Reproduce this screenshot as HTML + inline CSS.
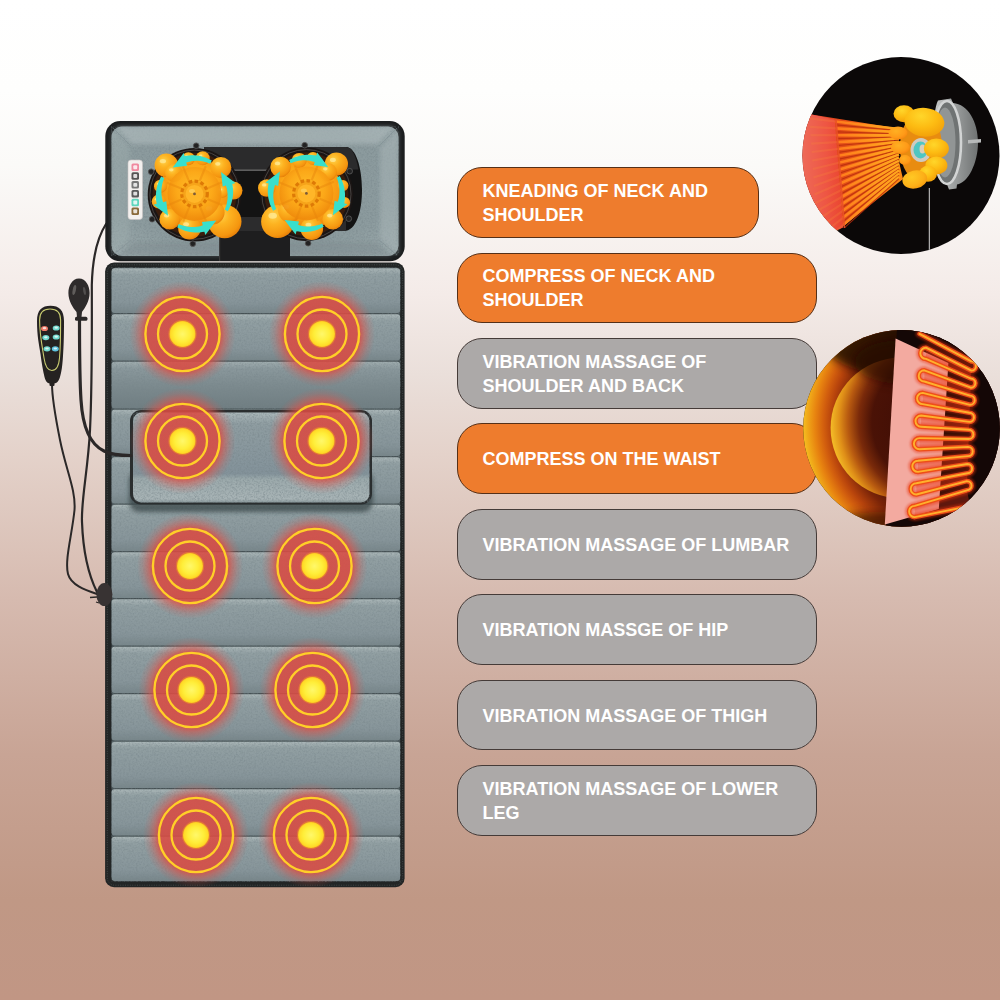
<!DOCTYPE html>
<html><head><meta charset="utf-8"><title>Massage mat functions</title>
<style>
html,body{margin:0;padding:0;}
body{width:1000px;height:1000px;position:relative;overflow:hidden;background:#fff;font-family:"Liberation Sans",Arial,sans-serif;}
.pill{position:absolute;left:457px;height:70.6px;box-sizing:border-box;padding-top:1.2px;border:1.8px solid #553018;border-radius:25px;display:flex;align-items:center;color:#fff;font-weight:bold;font-size:18px;line-height:24px;padding-left:24.6px;white-space:nowrap;}
.pill.o{background:#ee7c2d;}
.pill.g{background:#aca9a8;border-color:#453b38;}
</style></head><body>
<svg width="1000" height="1000" viewBox="0 0 1000 1000" style="position:absolute;left:0;top:0">

<defs>
<linearGradient id="bg" x1="0" y1="0" x2="0" y2="1">
 <stop offset="0" stop-color="#ffffff"/>
 <stop offset="0.09" stop-color="#fefefd"/>
 <stop offset="0.165" stop-color="#fbfaf8"/>
 <stop offset="0.295" stop-color="#f4ebe8"/>
 <stop offset="0.375" stop-color="#eadfda"/>
 <stop offset="0.455" stop-color="#e4d2ca"/>
 <stop offset="0.6" stop-color="#d6baaf"/>
 <stop offset="0.755" stop-color="#c8a495"/>
 <stop offset="0.9" stop-color="#c09885"/>
 <stop offset="1" stop-color="#c19684"/>
</linearGradient>
<linearGradient id="seg" x1="0" y1="0" x2="0" y2="1">
 <stop offset="0" stop-color="#abb7b8"/>
 <stop offset="0.14" stop-color="#919fa2"/>
 <stop offset="0.75" stop-color="#87959a"/>
 <stop offset="1" stop-color="#78868a"/>
</linearGradient>
<linearGradient id="pil" x1="0" y1="0" x2="0" y2="1">
 <stop offset="0" stop-color="#abb8ba"/>
 <stop offset="0.13" stop-color="#8f9da1"/>
 <stop offset="0.68" stop-color="#83929a"/>
 <stop offset="0.74" stop-color="#9caaac"/>
 <stop offset="0.96" stop-color="#a8b4b6"/>
 <stop offset="1" stop-color="#8a989b"/>
</linearGradient>
<radialGradient id="glow" cx="0.5" cy="0.5" r="0.5">
 <stop offset="0" stop-color="#d84c44" stop-opacity="0.9"/>
 <stop offset="0.70" stop-color="#d84c44" stop-opacity="0.88"/>
 <stop offset="0.80" stop-color="#dc544a" stop-opacity="0.5"/>
 <stop offset="0.90" stop-color="#dc544a" stop-opacity="0.18"/>
 <stop offset="1" stop-color="#dc544a" stop-opacity="0"/>
</radialGradient>
<linearGradient id="segd" x1="0" y1="0" x2="0" y2="1">
 <stop offset="0" stop-color="#a0adaf"/>
 <stop offset="0.15" stop-color="#8a989c"/>
 <stop offset="0.5" stop-color="#7d8b8f"/>
 <stop offset="1" stop-color="#6f7d81"/>
</linearGradient>
<radialGradient id="dot" cx="0.5" cy="0.5" r="0.5">
 <stop offset="0" stop-color="#fff86a"/>
 <stop offset="0.6" stop-color="#ffee3a"/>
 <stop offset="0.9" stop-color="#ffdc28"/>
 <stop offset="1" stop-color="#fbc620"/>
</radialGradient>
<radialGradient id="ball" cx="0.38" cy="0.32" r="0.75">
 <stop offset="0" stop-color="#ffd24a"/>
 <stop offset="0.35" stop-color="#fdb321"/>
 <stop offset="0.8" stop-color="#f5960f"/>
 <stop offset="1" stop-color="#df7606"/>
</radialGradient>
<radialGradient id="fist" cx="0.4" cy="0.3" r="0.8">
 <stop offset="0" stop-color="#ffd62a"/>
 <stop offset="0.5" stop-color="#fdbb12"/>
 <stop offset="1" stop-color="#f09a08"/>
</radialGradient>
<radialGradient id="core" cx="0.5" cy="0.42" r="0.55">
 <stop offset="0" stop-color="#ffbe2a"/>
 <stop offset="0.6" stop-color="#fca818"/>
 <stop offset="1" stop-color="#f08c0c"/>
</radialGradient>
<radialGradient id="headfab" cx="0.5" cy="0.45" r="0.7">
 <stop offset="0" stop-color="#8a999c"/>
 <stop offset="0.7" stop-color="#8c9b9e"/>
 <stop offset="1" stop-color="#9aa8aa"/>
</radialGradient>
<radialGradient id="disc" gradientUnits="userSpaceOnUse" cx="938" cy="422" r="110">
 <stop offset="0" stop-color="#3a0b05"/>
 <stop offset="0.6" stop-color="#4a1206"/>
 <stop offset="0.72" stop-color="#7a2a0a"/>
 <stop offset="0.82" stop-color="#b85a10"/>
 <stop offset="0.9" stop-color="#e09018"/>
 <stop offset="0.97" stop-color="#f2b826"/>
</radialGradient>
<radialGradient id="band" gradientUnits="userSpaceOnUse" cx="948" cy="424" r="148">
 <stop offset="0" stop-color="#2a0805"/>
 <stop offset="0.55" stop-color="#3a0e06"/>
 <stop offset="0.7" stop-color="#7a2408"/>
 <stop offset="0.79" stop-color="#b8440c"/>
 <stop offset="0.84" stop-color="#d25e0e"/>
 <stop offset="0.9" stop-color="#e88410"/>
 <stop offset="0.95" stop-color="#f0a818"/>
 <stop offset="0.985" stop-color="#f6c224"/>
</radialGradient>
<linearGradient id="beam" gradientUnits="userSpaceOnUse" x1="805" y1="0" x2="900" y2="0">
 <stop offset="0" stop-color="#e8402e"/>
 <stop offset="0.35" stop-color="#e04818"/>
 <stop offset="0.7" stop-color="#ee6a14"/>
 <stop offset="1" stop-color="#fb8a16"/>
</linearGradient>
<linearGradient id="panel" gradientUnits="userSpaceOnUse" x1="802" y1="0" x2="842" y2="0">
 <stop offset="0" stop-color="#ee6a58"/>
 <stop offset="0.6" stop-color="#ee5644"/>
 <stop offset="1" stop-color="#ea4630"/>
</linearGradient>
<linearGradient id="ray" gradientUnits="userSpaceOnUse" x1="836" y1="0" x2="900" y2="0">
 <stop offset="0" stop-color="#ff7a1c"/>
 <stop offset="0.6" stop-color="#ff9a1e"/>
 <stop offset="1" stop-color="#ffa81e"/>
</linearGradient>
<radialGradient id="fisto" cx="0.4" cy="0.35" r="0.8">
 <stop offset="0" stop-color="#ffb022"/>
 <stop offset="0.6" stop-color="#ff9a18"/>
 <stop offset="1" stop-color="#f07c0a"/>
</radialGradient>
<radialGradient id="fisto2" cx="0.4" cy="0.35" r="0.8">
 <stop offset="0" stop-color="#ffc824"/>
 <stop offset="0.6" stop-color="#fdb018"/>
 <stop offset="1" stop-color="#f0900a"/>
</radialGradient>
<linearGradient id="metal" x1="0" y1="0" x2="1" y2="0">
 <stop offset="0" stop-color="#c8caca"/>
 <stop offset="0.5" stop-color="#9a9d9d"/>
 <stop offset="1" stop-color="#6f7272"/>
</linearGradient>
<clipPath id="c1"><circle cx="901" cy="155.5" r="98.5"/></clipPath>
<clipPath id="c2"><circle cx="901.5" cy="428.4" r="98.3"/></clipPath>
<filter id="noise" x="0" y="0" width="100%" height="100%">
 <feTurbulence type="fractalNoise" baseFrequency="0.55" numOctaves="2" seed="7" result="t"/>
 <feColorMatrix in="t" type="matrix" values="0 0 0 0 0.18  0 0 0 0 0.23  0 0 0 0 0.25  1.8 1.8 0 0 -1.55"/>
</filter>
<filter id="b2" x="-20%" y="-20%" width="140%" height="140%"><feGaussianBlur stdDeviation="2"/></filter>
<filter id="b4" x="-30%" y="-30%" width="160%" height="160%"><feGaussianBlur stdDeviation="5"/></filter>
<filter id="b1" x="-20%" y="-20%" width="140%" height="140%"><feGaussianBlur stdDeviation="0.8"/></filter>
</defs>

<rect width="1000" height="1000" fill="url(#bg)"/>
<path d="M106 224 C97 238 92.5 258 91.8 285 C92 340 92 390 90 430 C88 470 81 500 82 522 C83 550 87 572 97 592" stroke="#2b2828" fill="none" stroke-linecap="round" stroke-width="2.2"/>
<path d="M52 384 C52 400 56 420 60 440 C66 470 76 490 74.5 510 C72 535 64.5 560 68 574 C71 585 85 590 97 594" stroke="#2b2828" fill="none" stroke-linecap="round" stroke-width="2"/>
<rect x="105.1" y="262.6" width="299.5" height="624.6" rx="9" fill="#222525"/>
<rect x="107.3" y="264.8" width="295.4" height="620.4" rx="7.5" fill="none" stroke="#414747" stroke-width="1" stroke-dasharray="1 1.4"/>
<rect x="111.6" y="267.5" width="288.5" height="614" rx="5" fill="#465154"/>
<rect x="111.6" y="268.2" width="288.5" height="44.8" rx="3" fill="url(#seg)"/>
<rect x="111.6" y="314.3" width="288.5" height="46.1" rx="3" fill="url(#seg)"/>
<rect x="111.6" y="361.7" width="288.5" height="46.7" rx="3" fill="url(#segd)"/>
<rect x="111.6" y="409.7" width="288.5" height="46.2" rx="3" fill="url(#seg)"/>
<rect x="111.6" y="457.2" width="288.5" height="46.2" rx="3" fill="url(#seg)"/>
<rect x="111.6" y="504.7" width="288.5" height="46.2" rx="3" fill="url(#seg)"/>
<rect x="111.6" y="552.2" width="288.5" height="45.7" rx="3" fill="url(#seg)"/>
<rect x="111.6" y="599.2" width="288.5" height="46.2" rx="3" fill="url(#seg)"/>
<rect x="111.6" y="646.7" width="288.5" height="46.2" rx="3" fill="url(#seg)"/>
<rect x="111.6" y="694.2" width="288.5" height="46.2" rx="3" fill="url(#seg)"/>
<rect x="111.6" y="741.7" width="288.5" height="46.2" rx="3" fill="url(#seg)"/>
<rect x="111.6" y="789.2" width="288.5" height="46.2" rx="3" fill="url(#seg)"/>
<rect x="111.6" y="836.7" width="288.5" height="44.2" rx="3" fill="url(#seg)"/>
<rect x="111.6" y="267.5" width="288.5" height="614" filter="url(#noise)" opacity="0.42"/>
<ellipse cx="104.4" cy="594.6" rx="8" ry="11.5" fill="#383333"/>
<path d="M90 597.5 l7 -0.5 M96 602 l3 1" stroke="#2b2827" stroke-width="1.3"/>
<rect x="129" y="470" width="244" height="42" rx="10" fill="#394447" opacity="0.75" filter="url(#b2)"/>
<rect x="130" y="410" width="242" height="94.5" rx="11" fill="#2a2e2f"/>
<rect x="133" y="412.4" width="236.4" height="90.2" rx="8.5" fill="url(#pil)"/>
<rect x="133" y="412.4" width="236.4" height="90.2" rx="8.5" filter="url(#noise)" opacity="0.5"/>
<path d="M79.5 320 C79.5 350 80 385 81 400 C82.5 425 89 444 104 451 C112 455 122 455.5 131 455.5" stroke="#2b2828" fill="none" stroke-linecap="round" stroke-width="3.2"/>
<rect x="105.3" y="121" width="299.4" height="140.3" rx="15" fill="#1c1e1f"/>
<rect x="111.5" y="126.5" width="287" height="129.5" rx="10.5" fill="url(#headfab)"/>
<rect x="111.5" y="126.5" width="287" height="129.5" rx="10.5" filter="url(#noise)" opacity="0.45"/>
<g filter="url(#b2)">
<path d="M112 130 L130 148 L130 238 L112 254Z" fill="#9eacae" opacity="0.45"/>
<path d="M398 130 L380 148 L380 238 L398 254Z" fill="#a5b2b4" opacity="0.6"/>
<path d="M116 127 L394 127 L378 144 L132 144Z" fill="#a9b6b8" opacity="0.7"/>
<path d="M118 256 L392 256 L376 242 L134 242Z" fill="#7b8a8d" opacity="0.5"/>
</g>
<path d="M113 128 L131 146 M397 128 L379 146 M113 255 L131 240 M397 255 L379 240" stroke="#7d8c8f" stroke-width="0.8" opacity="0.6" fill="none"/>
<path d="M204 147 L346 147 C356 147 362 168 362 190 C362 212 356 231 344 231 L290 231 L290 261 L219 261 L219 231 L204 231Z" fill="#131313"/>
<path d="M204 147 L346 147 C352 147 356 156 358.5 169.5 L204 169.5Z" fill="#2b2b2c"/>
<rect x="226" y="169.5" width="120" height="1.3" fill="#8a8a8a" opacity="0.8"/>
<rect x="226" y="217" width="120" height="14" fill="#2c2c2d"/>
<rect x="219" y="231" width="71" height="30" fill="#1e1e1f"/>
<rect x="219" y="231" width="1.2" height="30" fill="#3a3a3a"/>
<rect x="128" y="160" width="14.5" height="59.5" rx="3" fill="#f3f0ee" stroke="#c9c5c2" stroke-width="0.6"/>
<rect x="131.5" y="163.5" width="7.5" height="7.5" rx="1.5" fill="#f08aa0"/>
<rect x="133.3" y="165.3" width="3.9" height="3.9" rx="1" fill="#fff" opacity="0.8"/>
<rect x="131.5" y="172.3" width="7.5" height="7.5" rx="1.5" fill="#555"/>
<rect x="133.3" y="174.1" width="3.9" height="3.9" rx="1" fill="#fff" opacity="0.8"/>
<rect x="131.5" y="181.1" width="7.5" height="7.5" rx="1.5" fill="#777"/>
<rect x="133.3" y="182.9" width="3.9" height="3.9" rx="1" fill="#fff" opacity="0.8"/>
<rect x="131.5" y="189.9" width="7.5" height="7.5" rx="1.5" fill="#5a5a5a"/>
<rect x="133.3" y="191.7" width="3.9" height="3.9" rx="1" fill="#fff" opacity="0.8"/>
<rect x="131.5" y="198.7" width="7.5" height="7.5" rx="1.5" fill="#5fd6bd"/>
<rect x="133.3" y="200.5" width="3.9" height="3.9" rx="1" fill="#fff" opacity="0.8"/>
<rect x="131.5" y="207.5" width="7.5" height="7.5" rx="1.5" fill="#8a6a3a"/>
<rect x="133.3" y="209.3" width="3.9" height="3.9" rx="1" fill="#fff" opacity="0.8"/>
<circle cx="194.5" cy="194.70000000000002" r="46.8" fill="#1a1514"/>
<circle cx="194.5" cy="194.70000000000002" r="44.6" fill="none" stroke="#4d4846" stroke-width="0.9"/>
<circle cx="194.5" cy="194.70000000000002" r="42" fill="#3a1d0c"/>
<circle cx="196.2" cy="145.7" r="2.8" fill="#222" stroke="#555" stroke-width="0.9"/>
<circle cx="192.8" cy="243.7" r="2.8" fill="#222" stroke="#555" stroke-width="0.9"/>
<circle cx="152.1" cy="219.2" r="2.8" fill="#222" stroke="#555" stroke-width="0.9"/>
<circle cx="151.2" cy="171.7" r="2.8" fill="#222" stroke="#555" stroke-width="0.9"/>
<circle cx="194.5" cy="193.9" r="36" fill="url(#core)"/>
<circle cx="166.4" cy="165.3" r="11.8" fill="url(#ball)"/>
<ellipse cx="162.9" cy="161.2" rx="3.1" ry="2.1" fill="#fff3b0" opacity="0.6"/>
<circle cx="174.0" cy="173.0" r="9" fill="url(#ball)"/>
<ellipse cx="171.3" cy="169.8" rx="2.3" ry="1.6" fill="#fff3b0" opacity="0.6"/>
<circle cx="188.4" cy="158.7" r="6.5" fill="url(#ball)"/>
<ellipse cx="186.5" cy="156.4" rx="1.7" ry="1.2" fill="#fff3b0" opacity="0.6"/>
<circle cx="202.7" cy="158.3" r="7" fill="url(#ball)"/>
<ellipse cx="200.6" cy="155.9" rx="1.8" ry="1.3" fill="#fff3b0" opacity="0.6"/>
<circle cx="220.9" cy="167.5" r="10.5" fill="url(#ball)"/>
<ellipse cx="217.8" cy="163.8" rx="2.7" ry="1.9" fill="#fff3b0" opacity="0.6"/>
<circle cx="233.5" cy="190.6" r="9" fill="url(#ball)"/>
<ellipse cx="230.8" cy="187.4" rx="2.3" ry="1.6" fill="#fff3b0" opacity="0.6"/>
<circle cx="222.5" cy="191.7" r="6" fill="url(#ball)"/>
<ellipse cx="220.7" cy="189.6" rx="1.6" ry="1.1" fill="#fff3b0" opacity="0.6"/>
<circle cx="224.7" cy="221.4" r="16.8" fill="url(#ball)"/>
<ellipse cx="219.7" cy="215.5" rx="4.4" ry="3.0" fill="#fff3b0" opacity="0.6"/>
<circle cx="212.6" cy="212.6" r="12" fill="url(#ball)"/>
<ellipse cx="209.0" cy="208.4" rx="3.1" ry="2.2" fill="#fff3b0" opacity="0.6"/>
<circle cx="189.5" cy="228.2" r="11.3" fill="url(#ball)"/>
<ellipse cx="186.1" cy="224.2" rx="2.9" ry="2.0" fill="#fff3b0" opacity="0.6"/>
<circle cx="169.7" cy="219.2" r="10.3" fill="url(#ball)"/>
<ellipse cx="166.6" cy="215.6" rx="2.7" ry="1.9" fill="#fff3b0" opacity="0.6"/>
<circle cx="158.7" cy="201.6" r="7" fill="url(#ball)"/>
<ellipse cx="156.6" cy="199.2" rx="1.8" ry="1.3" fill="#fff3b0" opacity="0.6"/>
<circle cx="160.5" cy="186.2" r="6.5" fill="url(#ball)"/>
<ellipse cx="158.6" cy="183.9" rx="1.7" ry="1.2" fill="#fff3b0" opacity="0.6"/>
<circle cx="194.5" cy="193.9" r="27" fill="url(#core)" opacity="0.9"/>
<path d="M208.4 199.5 L221.4 204.8" stroke="#e8860c" stroke-width="2.2" opacity="0.45" stroke-linecap="round"/>
<path d="M200.4 207.7 L205.8 220.6" stroke="#e8860c" stroke-width="2.2" opacity="0.45" stroke-linecap="round"/>
<path d="M188.9 207.8 L183.6 220.8" stroke="#e8860c" stroke-width="2.2" opacity="0.45" stroke-linecap="round"/>
<path d="M180.7 199.8 L167.8 205.2" stroke="#e8860c" stroke-width="2.2" opacity="0.45" stroke-linecap="round"/>
<path d="M180.6 188.3 L167.6 183.0" stroke="#e8860c" stroke-width="2.2" opacity="0.45" stroke-linecap="round"/>
<path d="M188.6 180.1 L183.2 167.2" stroke="#e8860c" stroke-width="2.2" opacity="0.45" stroke-linecap="round"/>
<path d="M200.1 180.0 L205.4 167.0" stroke="#e8860c" stroke-width="2.2" opacity="0.45" stroke-linecap="round"/>
<path d="M208.3 188.0 L221.2 182.6" stroke="#e8860c" stroke-width="2.2" opacity="0.45" stroke-linecap="round"/>
<circle cx="194.5" cy="193.9" r="12.8" fill="#f6a41a" stroke="#de7a06" stroke-width="3.2" stroke-dasharray="3.6 2.4"/>
<circle cx="194.5" cy="193.9" r="9" fill="#ffb628"/>
<ellipse cx="192.0" cy="190.9" rx="3" ry="2" fill="#ffd870" opacity="0.6"/>
<circle cx="194.5" cy="193.9" r="1.4" fill="#7a5a3a"/>
<polygon points="211.8,160.6 209.8,159.5 207.7,158.5 205.5,157.6 203.3,156.9 201.1,156.3 198.8,155.8 196.4,155.5 194.1,155.3 191.7,155.3 189.3,155.4 186.9,155.7 184.6,156.1 183.7,152.9 172.7,167.4 187.1,165.7 186.2,162.5 188.2,161.9 190.1,161.4 192.1,161.1 194.1,160.9 196.2,160.8 198.2,160.8 200.3,161.0 202.3,161.3 204.3,161.7 206.3,162.2 208.3,162.9 210.2,163.7" fill="#38dfcd"/>
<polygon points="227.8,211.2 228.9,209.2 229.9,207.1 230.8,204.9 231.5,202.7 232.1,200.5 232.6,198.2 232.9,195.8 233.1,193.5 233.1,191.1 233.0,188.7 232.7,186.3 232.3,184.0 235.5,183.1 221.0,172.1 222.7,186.5 225.9,185.6 226.5,187.6 227.0,189.5 227.3,191.5 227.5,193.5 227.6,195.6 227.6,197.6 227.4,199.7 227.1,201.7 226.7,203.7 226.2,205.7 225.5,207.7 224.7,209.6" fill="#38dfcd"/>
<polygon points="177.2,227.2 179.2,228.3 181.3,229.3 183.5,230.2 185.7,230.9 187.9,231.5 190.2,232.0 192.6,232.3 194.9,232.5 197.3,232.5 199.7,232.4 202.1,232.1 204.4,231.7 205.3,234.9 216.3,220.4 201.9,222.1 202.8,225.3 200.8,225.9 198.9,226.4 196.9,226.7 194.9,226.9 192.8,227.0 190.8,227.0 188.7,226.8 186.7,226.5 184.7,226.1 182.7,225.6 180.7,224.9 178.8,224.1" fill="#38dfcd"/>
<polygon points="161.2,176.6 160.1,178.6 159.1,180.7 158.2,182.9 157.5,185.1 156.9,187.3 156.4,189.6 156.1,192.0 155.9,194.3 155.9,196.7 156.0,199.1 156.3,201.5 156.7,203.8 153.5,204.7 168.0,215.7 166.3,201.3 163.1,202.2 162.5,200.2 162.0,198.3 161.7,196.3 161.5,194.3 161.4,192.2 161.4,190.2 161.6,188.1 161.9,186.1 162.3,184.1 162.8,182.1 163.5,180.1 164.3,178.2" fill="#38dfcd"/>
<circle cx="306.4" cy="194.20000000000002" r="46.8" fill="#1a1514"/>
<circle cx="306.4" cy="194.20000000000002" r="44.6" fill="none" stroke="#4d4846" stroke-width="0.9"/>
<circle cx="306.4" cy="194.20000000000002" r="42" fill="#3a1d0c"/>
<circle cx="304.7" cy="145.2" r="2.8" fill="#222" stroke="#555" stroke-width="0.9"/>
<circle cx="308.1" cy="243.2" r="2.8" fill="#222" stroke="#555" stroke-width="0.9"/>
<circle cx="348.8" cy="218.7" r="2.8" fill="#222" stroke="#555" stroke-width="0.9"/>
<circle cx="349.7" cy="171.2" r="2.8" fill="#222" stroke="#555" stroke-width="0.9"/>
<circle cx="306.4" cy="193.4" r="36" fill="url(#core)"/>
<circle cx="336.4" cy="164.0" r="11.6" fill="url(#ball)"/>
<ellipse cx="332.9" cy="159.9" rx="3.0" ry="2.1" fill="#fff3b0" opacity="0.6"/>
<circle cx="328.0" cy="172.0" r="9" fill="url(#ball)"/>
<ellipse cx="325.3" cy="168.8" rx="2.3" ry="1.6" fill="#fff3b0" opacity="0.6"/>
<circle cx="299.2" cy="160.4" r="7.5" fill="url(#ball)"/>
<ellipse cx="296.9" cy="157.8" rx="2.0" ry="1.3" fill="#fff3b0" opacity="0.6"/>
<circle cx="313.0" cy="158.5" r="6.5" fill="url(#ball)"/>
<ellipse cx="311.1" cy="156.2" rx="1.7" ry="1.2" fill="#fff3b0" opacity="0.6"/>
<circle cx="280.6" cy="167.0" r="10.3" fill="url(#ball)"/>
<ellipse cx="277.5" cy="163.4" rx="2.7" ry="1.9" fill="#fff3b0" opacity="0.6"/>
<circle cx="266.8" cy="188.0" r="8.8" fill="url(#ball)"/>
<ellipse cx="264.2" cy="184.9" rx="2.3" ry="1.6" fill="#fff3b0" opacity="0.6"/>
<circle cx="277.6" cy="221.6" r="16.5" fill="url(#ball)"/>
<ellipse cx="272.7" cy="215.8" rx="4.3" ry="3.0" fill="#fff3b0" opacity="0.6"/>
<circle cx="289.6" cy="210.8" r="11.5" fill="url(#ball)"/>
<ellipse cx="286.2" cy="206.8" rx="3.0" ry="2.1" fill="#fff3b0" opacity="0.6"/>
<circle cx="311.8" cy="228.8" r="11.3" fill="url(#ball)"/>
<ellipse cx="308.4" cy="224.8" rx="2.9" ry="2.0" fill="#fff3b0" opacity="0.6"/>
<circle cx="332.8" cy="219.2" r="10.3" fill="url(#ball)"/>
<ellipse cx="329.7" cy="215.6" rx="2.7" ry="1.9" fill="#fff3b0" opacity="0.6"/>
<circle cx="344.6" cy="202.4" r="5.5" fill="url(#ball)"/>
<ellipse cx="343.0" cy="200.5" rx="1.4" ry="1.0" fill="#fff3b0" opacity="0.6"/>
<circle cx="343.0" cy="185.6" r="5.5" fill="url(#ball)"/>
<ellipse cx="341.4" cy="183.7" rx="1.4" ry="1.0" fill="#fff3b0" opacity="0.6"/>
<circle cx="306.4" cy="193.4" r="27" fill="url(#core)" opacity="0.9"/>
<path d="M320.3 199.0 L333.3 204.3" stroke="#e8860c" stroke-width="2.2" opacity="0.45" stroke-linecap="round"/>
<path d="M312.3 207.2 L317.7 220.1" stroke="#e8860c" stroke-width="2.2" opacity="0.45" stroke-linecap="round"/>
<path d="M300.8 207.3 L295.5 220.3" stroke="#e8860c" stroke-width="2.2" opacity="0.45" stroke-linecap="round"/>
<path d="M292.6 199.3 L279.7 204.7" stroke="#e8860c" stroke-width="2.2" opacity="0.45" stroke-linecap="round"/>
<path d="M292.5 187.8 L279.5 182.5" stroke="#e8860c" stroke-width="2.2" opacity="0.45" stroke-linecap="round"/>
<path d="M300.5 179.6 L295.1 166.7" stroke="#e8860c" stroke-width="2.2" opacity="0.45" stroke-linecap="round"/>
<path d="M312.0 179.5 L317.3 166.5" stroke="#e8860c" stroke-width="2.2" opacity="0.45" stroke-linecap="round"/>
<path d="M320.2 187.5 L333.1 182.1" stroke="#e8860c" stroke-width="2.2" opacity="0.45" stroke-linecap="round"/>
<circle cx="306.4" cy="193.4" r="12.8" fill="#f6a41a" stroke="#de7a06" stroke-width="3.2" stroke-dasharray="3.6 2.4"/>
<circle cx="306.4" cy="193.4" r="9" fill="#ffb628"/>
<ellipse cx="303.9" cy="190.4" rx="3" ry="2" fill="#ffd870" opacity="0.6"/>
<circle cx="306.4" cy="193.4" r="1.4" fill="#7a5a3a"/>
<polygon points="289.1,160.1 291.1,159.0 293.2,158.0 295.4,157.1 297.6,156.4 299.8,155.8 302.1,155.3 304.5,155.0 306.8,154.8 309.2,154.8 311.6,154.9 314.0,155.2 316.3,155.6 317.2,152.4 328.2,166.9 313.8,165.2 314.7,162.0 312.7,161.4 310.8,160.9 308.8,160.6 306.8,160.4 304.7,160.3 302.7,160.3 300.6,160.5 298.6,160.8 296.6,161.2 294.6,161.7 292.6,162.4 290.7,163.2" fill="#38dfcd"/>
<polygon points="339.7,176.1 340.8,178.1 341.8,180.2 342.7,182.4 343.4,184.6 344.0,186.8 344.5,189.1 344.8,191.5 345.0,193.8 345.0,196.2 344.9,198.6 344.6,201.0 344.2,203.3 347.4,204.2 332.9,215.2 334.6,200.8 337.8,201.7 338.4,199.7 338.9,197.8 339.2,195.8 339.4,193.8 339.5,191.7 339.5,189.7 339.3,187.6 339.0,185.6 338.6,183.6 338.1,181.6 337.4,179.6 336.6,177.7" fill="#38dfcd"/>
<polygon points="323.7,226.7 321.7,227.8 319.6,228.8 317.4,229.7 315.2,230.4 313.0,231.0 310.7,231.5 308.3,231.8 306.0,232.0 303.6,232.0 301.2,231.9 298.8,231.6 296.5,231.2 295.6,234.4 284.6,219.9 299.0,221.6 298.1,224.8 300.1,225.4 302.0,225.9 304.0,226.2 306.0,226.4 308.1,226.5 310.1,226.5 312.2,226.3 314.2,226.0 316.2,225.6 318.2,225.1 320.2,224.4 322.1,223.6" fill="#38dfcd"/>
<polygon points="273.1,210.7 272.0,208.7 271.0,206.6 270.1,204.4 269.4,202.2 268.8,200.0 268.3,197.7 268.0,195.3 267.8,193.0 267.8,190.6 267.9,188.2 268.2,185.8 268.6,183.5 265.4,182.6 279.9,171.6 278.2,186.0 275.0,185.1 274.4,187.1 273.9,189.0 273.6,191.0 273.4,193.0 273.3,195.1 273.3,197.1 273.5,199.2 273.8,201.2 274.2,203.2 274.7,205.2 275.4,207.2 276.2,209.1" fill="#38dfcd"/>
<circle cx="182.5" cy="334" r="53" fill="url(#glow)"/>
<circle cx="182.5" cy="334" r="37.1" fill="none" stroke="#ffcf28" stroke-width="2.4"/>
<circle cx="182.5" cy="334" r="24.5" fill="none" stroke="#ffcf28" stroke-width="2.3"/>
<circle cx="182.5" cy="334" r="14.2" fill="#f0902a" opacity="0.55"/>
<circle cx="182.5" cy="334" r="13" fill="url(#dot)"/>
<circle cx="322" cy="334" r="53" fill="url(#glow)"/>
<circle cx="322" cy="334" r="37.1" fill="none" stroke="#ffcf28" stroke-width="2.4"/>
<circle cx="322" cy="334" r="24.5" fill="none" stroke="#ffcf28" stroke-width="2.3"/>
<circle cx="322" cy="334" r="14.2" fill="#f0902a" opacity="0.55"/>
<circle cx="322" cy="334" r="13" fill="url(#dot)"/>
<circle cx="182.5" cy="441" r="53" fill="url(#glow)"/>
<circle cx="182.5" cy="441" r="37.1" fill="none" stroke="#ffcf28" stroke-width="2.4"/>
<circle cx="182.5" cy="441" r="24.5" fill="none" stroke="#ffcf28" stroke-width="2.3"/>
<circle cx="182.5" cy="441" r="14.2" fill="#f0902a" opacity="0.55"/>
<circle cx="182.5" cy="441" r="13" fill="url(#dot)"/>
<circle cx="321.5" cy="441" r="53" fill="url(#glow)"/>
<circle cx="321.5" cy="441" r="37.1" fill="none" stroke="#ffcf28" stroke-width="2.4"/>
<circle cx="321.5" cy="441" r="24.5" fill="none" stroke="#ffcf28" stroke-width="2.3"/>
<circle cx="321.5" cy="441" r="14.2" fill="#f0902a" opacity="0.55"/>
<circle cx="321.5" cy="441" r="13" fill="url(#dot)"/>
<circle cx="190" cy="566" r="53" fill="url(#glow)"/>
<circle cx="190" cy="566" r="37.1" fill="none" stroke="#ffcf28" stroke-width="2.4"/>
<circle cx="190" cy="566" r="24.5" fill="none" stroke="#ffcf28" stroke-width="2.3"/>
<circle cx="190" cy="566" r="14.2" fill="#f0902a" opacity="0.55"/>
<circle cx="190" cy="566" r="13" fill="url(#dot)"/>
<circle cx="314.5" cy="566" r="53" fill="url(#glow)"/>
<circle cx="314.5" cy="566" r="37.1" fill="none" stroke="#ffcf28" stroke-width="2.4"/>
<circle cx="314.5" cy="566" r="24.5" fill="none" stroke="#ffcf28" stroke-width="2.3"/>
<circle cx="314.5" cy="566" r="14.2" fill="#f0902a" opacity="0.55"/>
<circle cx="314.5" cy="566" r="13" fill="url(#dot)"/>
<circle cx="191.5" cy="690" r="53" fill="url(#glow)"/>
<circle cx="191.5" cy="690" r="37.1" fill="none" stroke="#ffcf28" stroke-width="2.4"/>
<circle cx="191.5" cy="690" r="24.5" fill="none" stroke="#ffcf28" stroke-width="2.3"/>
<circle cx="191.5" cy="690" r="14.2" fill="#f0902a" opacity="0.55"/>
<circle cx="191.5" cy="690" r="13" fill="url(#dot)"/>
<circle cx="312.5" cy="690" r="53" fill="url(#glow)"/>
<circle cx="312.5" cy="690" r="37.1" fill="none" stroke="#ffcf28" stroke-width="2.4"/>
<circle cx="312.5" cy="690" r="24.5" fill="none" stroke="#ffcf28" stroke-width="2.3"/>
<circle cx="312.5" cy="690" r="14.2" fill="#f0902a" opacity="0.55"/>
<circle cx="312.5" cy="690" r="13" fill="url(#dot)"/>
<circle cx="196" cy="835" r="53" fill="url(#glow)"/>
<circle cx="196" cy="835" r="37.1" fill="none" stroke="#ffcf28" stroke-width="2.4"/>
<circle cx="196" cy="835" r="24.5" fill="none" stroke="#ffcf28" stroke-width="2.3"/>
<circle cx="196" cy="835" r="14.2" fill="#f0902a" opacity="0.55"/>
<circle cx="196" cy="835" r="13" fill="url(#dot)"/>
<circle cx="311" cy="835" r="53" fill="url(#glow)"/>
<circle cx="311" cy="835" r="37.1" fill="none" stroke="#ffcf28" stroke-width="2.4"/>
<circle cx="311" cy="835" r="24.5" fill="none" stroke="#ffcf28" stroke-width="2.3"/>
<circle cx="311" cy="835" r="14.2" fill="#f0902a" opacity="0.55"/>
<circle cx="311" cy="835" r="13" fill="url(#dot)"/>
<path d="M79 278.5 C86 278.5 89.6 286 89.6 293 C89.6 301 85 308 82 312 L81.5 317 L77 317 L76.5 312 C73 308 68.4 301 68.4 293 C68.4 286 72 278.5 79 278.5Z" fill="#2e2b2b"/>
<ellipse cx="74.3" cy="290" rx="1.6" ry="5" fill="#8a8684" opacity="0.55" transform="rotate(12 74.3 290)"/>
<ellipse cx="84.5" cy="291" rx="1.2" ry="4" fill="#8a8684" opacity="0.4" transform="rotate(-10 84.5 291)"/>
<rect x="75" y="316.8" width="12.4" height="4" rx="1.5" fill="#2a2727"/>
<path d="M37 321 C37 310 42 305.8 50.5 305.8 C59 305.8 64 310 64 321 C64 338 63.6 348 63 356 C62.4 366 61.5 372 60 377 C58.5 382 56 384 52 384 C48 384 45.8 382 44.5 377 C43 371 41.5 362 40.5 354 C39 344 37 336 37 321Z" fill="#252221"/>
<path d="M39.6 320 C39.6 312 44 309 50 309 C56 309 60.6 312 60.6 320 C60.6 335 60.4 348 59.5 358 C58.8 366 56 370.5 51.8 370.5 C47.5 370.5 45.2 366 44 358 C42.5 348 39.6 335 39.6 320Z" fill="none" stroke="#c8cb70" stroke-width="1.1"/>
<ellipse cx="44.5" cy="328.5" rx="3.5" ry="2.6" fill="#ee7a68"/>
<ellipse cx="44.5" cy="328.2" rx="1.8" ry="1.1" fill="#fff" opacity="0.75"/>
<ellipse cx="56.2" cy="328" rx="3.5" ry="2.6" fill="#6fd9cf"/>
<ellipse cx="56.2" cy="327.7" rx="1.8" ry="1.1" fill="#fff" opacity="0.75"/>
<ellipse cx="45.8" cy="337.6" rx="3.5" ry="2.6" fill="#6fd9cf"/>
<ellipse cx="45.8" cy="337.3" rx="1.8" ry="1.1" fill="#fff" opacity="0.75"/>
<ellipse cx="56.2" cy="337" rx="3.5" ry="2.6" fill="#6fd9cf"/>
<ellipse cx="56.2" cy="336.7" rx="1.8" ry="1.1" fill="#fff" opacity="0.75"/>
<ellipse cx="47" cy="348.8" rx="3.5" ry="2.6" fill="#6fd9cf"/>
<ellipse cx="47" cy="348.5" rx="1.8" ry="1.1" fill="#fff" opacity="0.75"/>
<ellipse cx="55.3" cy="348.8" rx="3.5" ry="2.6" fill="#5fc4e0"/>
<ellipse cx="55.3" cy="348.5" rx="1.8" ry="1.1" fill="#fff" opacity="0.75"/>
<rect x="49.5" y="383" width="5" height="3" rx="1" fill="#252221"/>
</svg>
<div class="pill o" style="top:167.1px;width:301.5px"><div>KNEADING OF NECK AND<br>SHOULDER</div></div>
<div class="pill o" style="top:252.56px;width:359.5px"><div>COMPRESS OF NECK AND<br>SHOULDER</div></div>
<div class="pill g" style="top:338.02px;width:359.5px"><div>VIBRATION MASSAGE OF<br>SHOULDER AND BACK</div></div>
<div class="pill o" style="top:423.48px;width:359.5px"><div>COMPRESS ON THE WAIST</div></div>
<div class="pill g" style="top:508.94px;width:359.5px"><div>VIBRATION MASSAGE OF LUMBAR</div></div>
<div class="pill g" style="top:594.4px;width:359.5px"><div>VIBRATION MASSGE OF HIP</div></div>
<div class="pill g" style="top:679.86px;width:359.5px"><div>VIBRATION MASSAGE OF THIGH</div></div>
<div class="pill g" style="top:765.32px;width:359.5px"><div>VIBRATION MASSAGE OF LOWER<br>LEG</div></div>
<svg width="1000" height="1000" viewBox="0 0 1000 1000" style="position:absolute;left:0;top:0">
<circle cx="901" cy="155.5" r="98.5" fill="#0b0808"/>
<g clip-path="url(#c1)">
<path d="M800 112.6 L811.5 114.5 L891 127.3 L903 179 L841 228 L800 245Z" fill="url(#beam)"/>
<path d="M800 112 L834.7 119.6 L843.2 227.5 L800 246Z" fill="url(#panel)"/>
<path d="M835.5 121.5 L899 129.0" stroke="url(#ray)" stroke-width="2.6"/>
<path d="M836.0 124.9 L899 130.6" stroke="#b82c0e" stroke-width="1.2" opacity="0.8"/>
<path d="M809.5 118.4 L835.5 121.5" stroke="#f8843a" stroke-width="2.2" opacity="0.28"/>
<path d="M836.1 128.4 L899 132.2" stroke="url(#ray)" stroke-width="2.6"/>
<path d="M836.6 131.8 L899 133.8" stroke="#b82c0e" stroke-width="1.2" opacity="0.8"/>
<path d="M810.1 126.8 L836.1 128.4" stroke="#f8843a" stroke-width="2.2" opacity="0.28"/>
<path d="M836.6 135.2 L899 135.4" stroke="url(#ray)" stroke-width="2.6"/>
<path d="M837.1 138.6 L899 137.0" stroke="#b82c0e" stroke-width="1.2" opacity="0.8"/>
<path d="M810.6 135.2 L836.6 135.2" stroke="#f8843a" stroke-width="2.2" opacity="0.28"/>
<path d="M837.2 142.1 L899 138.6" stroke="url(#ray)" stroke-width="2.6"/>
<path d="M837.7 145.5 L899 140.2" stroke="#b82c0e" stroke-width="1.2" opacity="0.8"/>
<path d="M811.2 143.6 L837.2 142.1" stroke="#f8843a" stroke-width="2.2" opacity="0.28"/>
<path d="M837.7 149.0 L899 141.8" stroke="url(#ray)" stroke-width="2.6"/>
<path d="M838.2 152.4 L899 143.4" stroke="#b82c0e" stroke-width="1.2" opacity="0.8"/>
<path d="M811.7 152.0 L837.7 149.0" stroke="#f8843a" stroke-width="2.2" opacity="0.28"/>
<path d="M838.3 155.8 L899 145.0" stroke="url(#ray)" stroke-width="2.6"/>
<path d="M838.8 159.2 L899 146.6" stroke="#b82c0e" stroke-width="1.2" opacity="0.8"/>
<path d="M812.3 160.5 L838.3 155.8" stroke="#f8843a" stroke-width="2.2" opacity="0.28"/>
<path d="M838.8 162.7 L899 148.2" stroke="url(#ray)" stroke-width="2.6"/>
<path d="M839.3 166.1 L899 149.8" stroke="#b82c0e" stroke-width="1.2" opacity="0.8"/>
<path d="M812.8 169.0 L838.8 162.7" stroke="#f8843a" stroke-width="2.2" opacity="0.28"/>
<path d="M839.4 169.6 L899 151.4" stroke="url(#ray)" stroke-width="2.6"/>
<path d="M839.9 173.0 L899 153.0" stroke="#b82c0e" stroke-width="1.2" opacity="0.8"/>
<path d="M813.4 177.5 L839.4 169.6" stroke="#f8843a" stroke-width="2.2" opacity="0.28"/>
<path d="M839.9 176.4 L899 154.6" stroke="url(#ray)" stroke-width="2.6"/>
<path d="M840.4 179.8 L899 156.2" stroke="#b82c0e" stroke-width="1.2" opacity="0.8"/>
<path d="M813.9 186.0 L839.9 176.4" stroke="#f8843a" stroke-width="2.2" opacity="0.28"/>
<path d="M840.5 183.3 L899 157.8" stroke="url(#ray)" stroke-width="2.6"/>
<path d="M841.0 186.7 L899 159.4" stroke="#b82c0e" stroke-width="1.2" opacity="0.8"/>
<path d="M814.5 194.6 L840.5 183.3" stroke="#f8843a" stroke-width="2.2" opacity="0.28"/>
<path d="M841.0 190.2 L899 161.0" stroke="url(#ray)" stroke-width="2.6"/>
<path d="M841.5 193.6 L899 162.6" stroke="#b82c0e" stroke-width="1.2" opacity="0.8"/>
<path d="M815.0 203.2 L841.0 190.2" stroke="#f8843a" stroke-width="2.2" opacity="0.28"/>
<path d="M841.6 197.0 L899 164.2" stroke="url(#ray)" stroke-width="2.6"/>
<path d="M842.1 200.4 L899 165.8" stroke="#b82c0e" stroke-width="1.2" opacity="0.8"/>
<path d="M815.6 211.9 L841.6 197.0" stroke="#f8843a" stroke-width="2.2" opacity="0.28"/>
<path d="M842.1 203.9 L899 167.4" stroke="url(#ray)" stroke-width="2.6"/>
<path d="M842.6 207.3 L899 169.0" stroke="#b82c0e" stroke-width="1.2" opacity="0.8"/>
<path d="M816.1 220.6 L842.1 203.9" stroke="#f8843a" stroke-width="2.2" opacity="0.28"/>
<path d="M842.7 210.8 L899 170.6" stroke="url(#ray)" stroke-width="2.6"/>
<path d="M843.2 214.2 L899 172.2" stroke="#b82c0e" stroke-width="1.2" opacity="0.8"/>
<path d="M816.7 229.3 L842.7 210.8" stroke="#f8843a" stroke-width="2.2" opacity="0.28"/>
<path d="M843.2 217.6 L899 173.8" stroke="url(#ray)" stroke-width="2.6"/>
<path d="M843.7 221.0 L899 175.4" stroke="#b82c0e" stroke-width="1.2" opacity="0.8"/>
<path d="M817.2 238.1 L843.2 217.6" stroke="#f8843a" stroke-width="2.2" opacity="0.28"/>
<path d="M843.8 224.5 L899 177.0" stroke="url(#ray)" stroke-width="2.6"/>
<path d="M844.3 227.9 L899 178.6" stroke="#b82c0e" stroke-width="1.2" opacity="0.8"/>
<path d="M817.8 246.9 L843.8 224.5" stroke="#f8843a" stroke-width="2.2" opacity="0.28"/>
<path d="M836 119 L844.5 228" stroke="#e8502a" stroke-width="1.6" opacity="0.9"/>
<path d="M938 100.5 L951 98.5 L953 103 C968 104 978 122 978 142.5 C978 163 968 183 957 184.5 L956.5 188.5 L949 189.5 L947 184.5 C938 184 933 165 933 142.5 C933 122 935 106 938 100.5Z" fill="url(#metal)"/>
<ellipse cx="947" cy="142.5" rx="14" ry="41.5" fill="#6f7373"/>
<ellipse cx="947" cy="142.5" rx="14" ry="41.5" fill="none" stroke="#d2d4d4" stroke-width="2.6"/>
<ellipse cx="945" cy="142.5" rx="10.5" ry="35" fill="#9a9d9d" opacity="0.8"/>
<path d="M968 140 L981 139 L981 142.5 L968 143.5Z" fill="#b8baba"/>
<ellipse cx="921" cy="147" rx="21" ry="35" fill="#e88c10"/>
<ellipse cx="921" cy="150" rx="10.5" ry="12" fill="#cfcac0"/><ellipse cx="920.5" cy="150" rx="7" ry="8.5" fill="#4fc6c2"/><ellipse cx="922.5" cy="149" rx="3" ry="4.5" fill="#d9cfb8"/>
<ellipse cx="904" cy="113.8" rx="10.5" ry="8.5" fill="url(#fist)" transform="rotate(0 904 113.8)"/>
<ellipse cx="924.4" cy="122.2" rx="20" ry="14.4" fill="url(#fist)" transform="rotate(6 924.4 122.2)"/>
<ellipse cx="898" cy="133" rx="9.5" ry="6.5" fill="url(#fisto)" transform="rotate(0 898 133)"/>
<ellipse cx="900.4" cy="147.4" rx="9.5" ry="6.5" fill="url(#fisto)" transform="rotate(0 900.4 147.4)"/>
<ellipse cx="936.4" cy="148.6" rx="12.5" ry="10" fill="url(#fist)" transform="rotate(0 936.4 148.6)"/>
<ellipse cx="936.4" cy="165.4" rx="11" ry="9" fill="url(#fist)" transform="rotate(0 936.4 165.4)"/>
<ellipse cx="928" cy="173.8" rx="9" ry="8" fill="url(#fist)" transform="rotate(0 928 173.8)"/>
<ellipse cx="914.8" cy="179.5" rx="12.5" ry="9" fill="url(#fisto2)" transform="rotate(-12 914.8 179.5)"/>
<ellipse cx="905" cy="160" rx="6" ry="5" fill="url(#fisto)" transform="rotate(0 905 160)"/>
<path d="M929.3 188 L929.3 260" stroke="#d4d4d4" stroke-width="1"/>
</g>
<circle cx="901.5" cy="428.4" r="98.3" fill="#160806"/>
<g clip-path="url(#c2)">
<circle cx="901.5" cy="428.4" r="99" fill="url(#band)"/>
<ellipse cx="890" cy="335" rx="70" ry="40" fill="#1a0705" opacity="0.85" filter="url(#b4)"/>
<ellipse cx="880" cy="528" rx="50" ry="16" fill="#2a0b05" opacity="0.7" filter="url(#b4)"/>
<circle cx="901" cy="428" r="70.4" fill="url(#disc)"/>
<ellipse cx="900" cy="362" rx="45" ry="22" fill="#2a0805" opacity="0.7" filter="url(#b4)"/>
<path d="M897.5 320 L1005 320 L1005 540 L885 540Z" fill="#140706"/>
<path d="M895.6 338.4 L948.4 363 L938.8 509 L884.8 524.6Z" fill="#f3aaa0"/>
<path d="M925.9 347.7 L971.4 370.6 L970.8 378.5 L925.9 358.9Z" fill="#e83a20" opacity="0.35"/>
<path d="M924.3 370.3 L970.8 387.7 L970.1 395.6 L924.3 381.5Z" fill="#e83a20" opacity="0.35"/>
<path d="M922.7 392.9 L970.1 404.8 L969.4 412.7 L922.7 404.1Z" fill="#e83a20" opacity="0.35"/>
<path d="M921.1 415.5 L969.4 421.9 L968.8 429.8 L921.1 426.7Z" fill="#e83a20" opacity="0.35"/>
<path d="M919.5 438.1 L968.8 439.0 L968.1 446.9 L919.5 449.3Z" fill="#e83a20" opacity="0.35"/>
<path d="M917.9 460.7 L968.1 456.1 L967.5 464.0 L917.9 471.9Z" fill="#e83a20" opacity="0.35"/>
<path d="M916.3 483.3 L967.5 473.2 L966.9 481.1 L916.3 494.5Z" fill="#e83a20" opacity="0.35"/>
<path d="M914.7 505.9 L966.9 490.3 L970.0 505.1 L914.7 517.1Z" fill="#e83a20" opacity="0.35"/>
<path d="M919.6 333.8 L971.4 361.4 A4.6 4.6 0 0 1 971.4 370.6 L925.9 347.7 A5.6 5.6 0 0 0 925.9 358.9 L970.8 378.5 A4.6 4.6 0 0 1 970.8 387.7 L924.3 370.3 A5.6 5.6 0 0 0 924.3 381.5 L970.1 395.6 A4.6 4.6 0 0 1 970.1 404.8 L922.7 392.9 A5.6 5.6 0 0 0 922.7 404.1 L969.4 412.7 A4.6 4.6 0 0 1 969.4 421.9 L921.1 415.5 A5.6 5.6 0 0 0 921.1 426.7 L968.8 429.8 A4.6 4.6 0 0 1 968.8 439.0 L919.5 438.1 A5.6 5.6 0 0 0 919.5 449.3 L968.1 446.9 A4.6 4.6 0 0 1 968.1 456.1 L917.9 460.7 A5.6 5.6 0 0 0 917.9 471.9 L967.5 464.0 A4.6 4.6 0 0 1 967.5 473.2 L916.3 483.3 A5.6 5.6 0 0 0 916.3 494.5 L966.9 481.1 A4.6 4.6 0 0 1 966.9 490.3 L914.7 505.9 A5.6 5.6 0 0 0 914.7 517.1 L975 505.1 " stroke="#e8300c" stroke-width="8" fill="none" stroke-linecap="round" stroke-linejoin="round" opacity="0.45" filter="url(#b1)"/>
<path d="M919.6 333.8 L971.4 361.4 A4.6 4.6 0 0 1 971.4 370.6 L925.9 347.7 A5.6 5.6 0 0 0 925.9 358.9 L970.8 378.5 A4.6 4.6 0 0 1 970.8 387.7 L924.3 370.3 A5.6 5.6 0 0 0 924.3 381.5 L970.1 395.6 A4.6 4.6 0 0 1 970.1 404.8 L922.7 392.9 A5.6 5.6 0 0 0 922.7 404.1 L969.4 412.7 A4.6 4.6 0 0 1 969.4 421.9 L921.1 415.5 A5.6 5.6 0 0 0 921.1 426.7 L968.8 429.8 A4.6 4.6 0 0 1 968.8 439.0 L919.5 438.1 A5.6 5.6 0 0 0 919.5 449.3 L968.1 446.9 A4.6 4.6 0 0 1 968.1 456.1 L917.9 460.7 A5.6 5.6 0 0 0 917.9 471.9 L967.5 464.0 A4.6 4.6 0 0 1 967.5 473.2 L916.3 483.3 A5.6 5.6 0 0 0 916.3 494.5 L966.9 481.1 A4.6 4.6 0 0 1 966.9 490.3 L914.7 505.9 A5.6 5.6 0 0 0 914.7 517.1 L975 505.1 " stroke="#ee4e18" stroke-width="4.6" fill="none" stroke-linecap="round" stroke-linejoin="round"/>
<path d="M919.6 333.8 L971.4 361.4 A4.6 4.6 0 0 1 971.4 370.6 L925.9 347.7 A5.6 5.6 0 0 0 925.9 358.9 L970.8 378.5 A4.6 4.6 0 0 1 970.8 387.7 L924.3 370.3 A5.6 5.6 0 0 0 924.3 381.5 L970.1 395.6 A4.6 4.6 0 0 1 970.1 404.8 L922.7 392.9 A5.6 5.6 0 0 0 922.7 404.1 L969.4 412.7 A4.6 4.6 0 0 1 969.4 421.9 L921.1 415.5 A5.6 5.6 0 0 0 921.1 426.7 L968.8 429.8 A4.6 4.6 0 0 1 968.8 439.0 L919.5 438.1 A5.6 5.6 0 0 0 919.5 449.3 L968.1 446.9 A4.6 4.6 0 0 1 968.1 456.1 L917.9 460.7 A5.6 5.6 0 0 0 917.9 471.9 L967.5 464.0 A4.6 4.6 0 0 1 967.5 473.2 L916.3 483.3 A5.6 5.6 0 0 0 916.3 494.5 L966.9 481.1 A4.6 4.6 0 0 1 966.9 490.3 L914.7 505.9 A5.6 5.6 0 0 0 914.7 517.1 L975 505.1 " stroke="#ffb02c" stroke-width="1.9" fill="none" stroke-linecap="round" stroke-linejoin="round"/>
</g>
</svg>
</body></html>
